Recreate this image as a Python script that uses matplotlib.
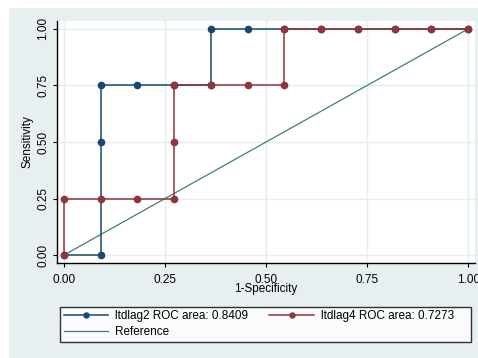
import matplotlib
matplotlib.use('Agg')
import matplotlib.pyplot as plt
from matplotlib.patches import Rectangle

plt.rcParams['font.family'] = ['Liberation Sans', 'DejaVu Sans']

# ROC points (1-specificity, sensitivity)
fpr_lag2 = [0, 0.0909, 0.0909, 0.0909, 0.1818, 0.2727, 0.3636, 0.3636,
            0.4545, 0.5455, 0.6364, 0.7273, 0.8182, 0.9091, 1.0]
tpr_lag2 = [0, 0, 0.5, 0.75, 0.75, 0.75, 0.75, 1.0,
            1.0, 1.0, 1.0, 1.0, 1.0, 1.0, 1.0]
fpr_lag4 = [0, 0, 0.0909, 0.1818, 0.2727, 0.2727, 0.2727, 0.3636,
            0.4545, 0.5455, 0.5455, 0.6364, 0.7273, 0.8182, 0.9091, 1.0]
tpr_lag4 = [0, 0.25, 0.25, 0.25, 0.25, 0.5, 0.75, 0.75,
            0.75, 0.75, 1.0, 1.0, 1.0, 1.0, 1.0, 1.0]
ref_x = [0, 1]
ref_y = [0, 1]
labels = ['ltdlag2 ROC area: 0.8409', 'ltdlag4 ROC area: 0.7273', 'Reference']
ticks = [0, 0.25, 0.5, 0.75, 1.0]
tick_labels = ['0.00', '0.25', '0.50', '0.75', '1.00']

W, H = 478, 358
fig = plt.figure(figsize=(W / 100, H / 100), dpi=100, facecolor='white')
bg = '#e8eff1'
fig.patches.append(Rectangle((9 / W, 0), 1 - 9 / W, 1 - 8 / H,
                             transform=fig.transFigure, facecolor=bg,
                             edgecolor='none', zorder=-5))

ax = fig.add_axes([57 / W, (H - 263) / H, (475 - 57) / W, (263 - 21) / H])
ax.set_facecolor('white')
ax.set_xlim(-0.0173, 1.017)
ax.set_ylim(-0.035, 1.035)

navy = '#1a476f'
maroon = '#90353b'
teal = '#3d7f77'

h1, = ax.plot(fpr_lag2, tpr_lag2, color=navy, lw=1.1, marker='o', ms=4.5, zorder=3)
h2, = ax.plot(fpr_lag4, tpr_lag4, color=maroon, lw=1.1, marker='o', ms=4.5, zorder=4)
h3, = ax.plot(ref_x, ref_y, color=teal, lw=0.9, zorder=2)

ax.set_xticks(ticks)
ax.set_xticklabels(tick_labels)
ax.set_yticks(ticks)
ax.set_yticklabels(tick_labels, rotation=90, va='center')
ax.grid(True, color='#e4edef', lw=1)
ax.set_axisbelow(True)
for s in ['top', 'right']:
    ax.spines[s].set_visible(False)
for s in ['left', 'bottom']:
    ax.spines[s].set_color('black')
    ax.spines[s].set_linewidth(1)
ax.tick_params(axis='x', direction='out', length=3, width=0.8, labelsize=8.5, pad=4.8)
ax.tick_params(axis='y', direction='out', length=3, width=0.8, labelsize=8.5, pad=2.7)

fig.text(266 / W, 1 - 289 / H, '1-Specificity', ha='center', va='center', fontsize=8.5)
fig.text(28 / W, 1 - 142 / H, 'Sensitivity', ha='center', va='center',
         rotation=90, fontsize=8.5)

leg = fig.legend([h1, h3, h2], [labels[0], labels[2], labels[1] + '    '], ncol=2,
                 loc='lower left', mode='expand',
                 bbox_to_anchor=(60 / W, 1 - 342 / H, (471 - 60) / W, 40 / H),
                 fontsize=8.5, frameon=True, fancybox=False, borderaxespad=0,
                 handlelength=3.8, handletextpad=0.6, labelspacing=0.35,
                 borderpad=0.3, markerscale=0.8)
leg.get_frame().set_edgecolor('black')
leg.get_frame().set_linewidth(1)
leg.get_frame().set_facecolor('white')

fig.savefig('out.png', dpi=100, facecolor='white')
